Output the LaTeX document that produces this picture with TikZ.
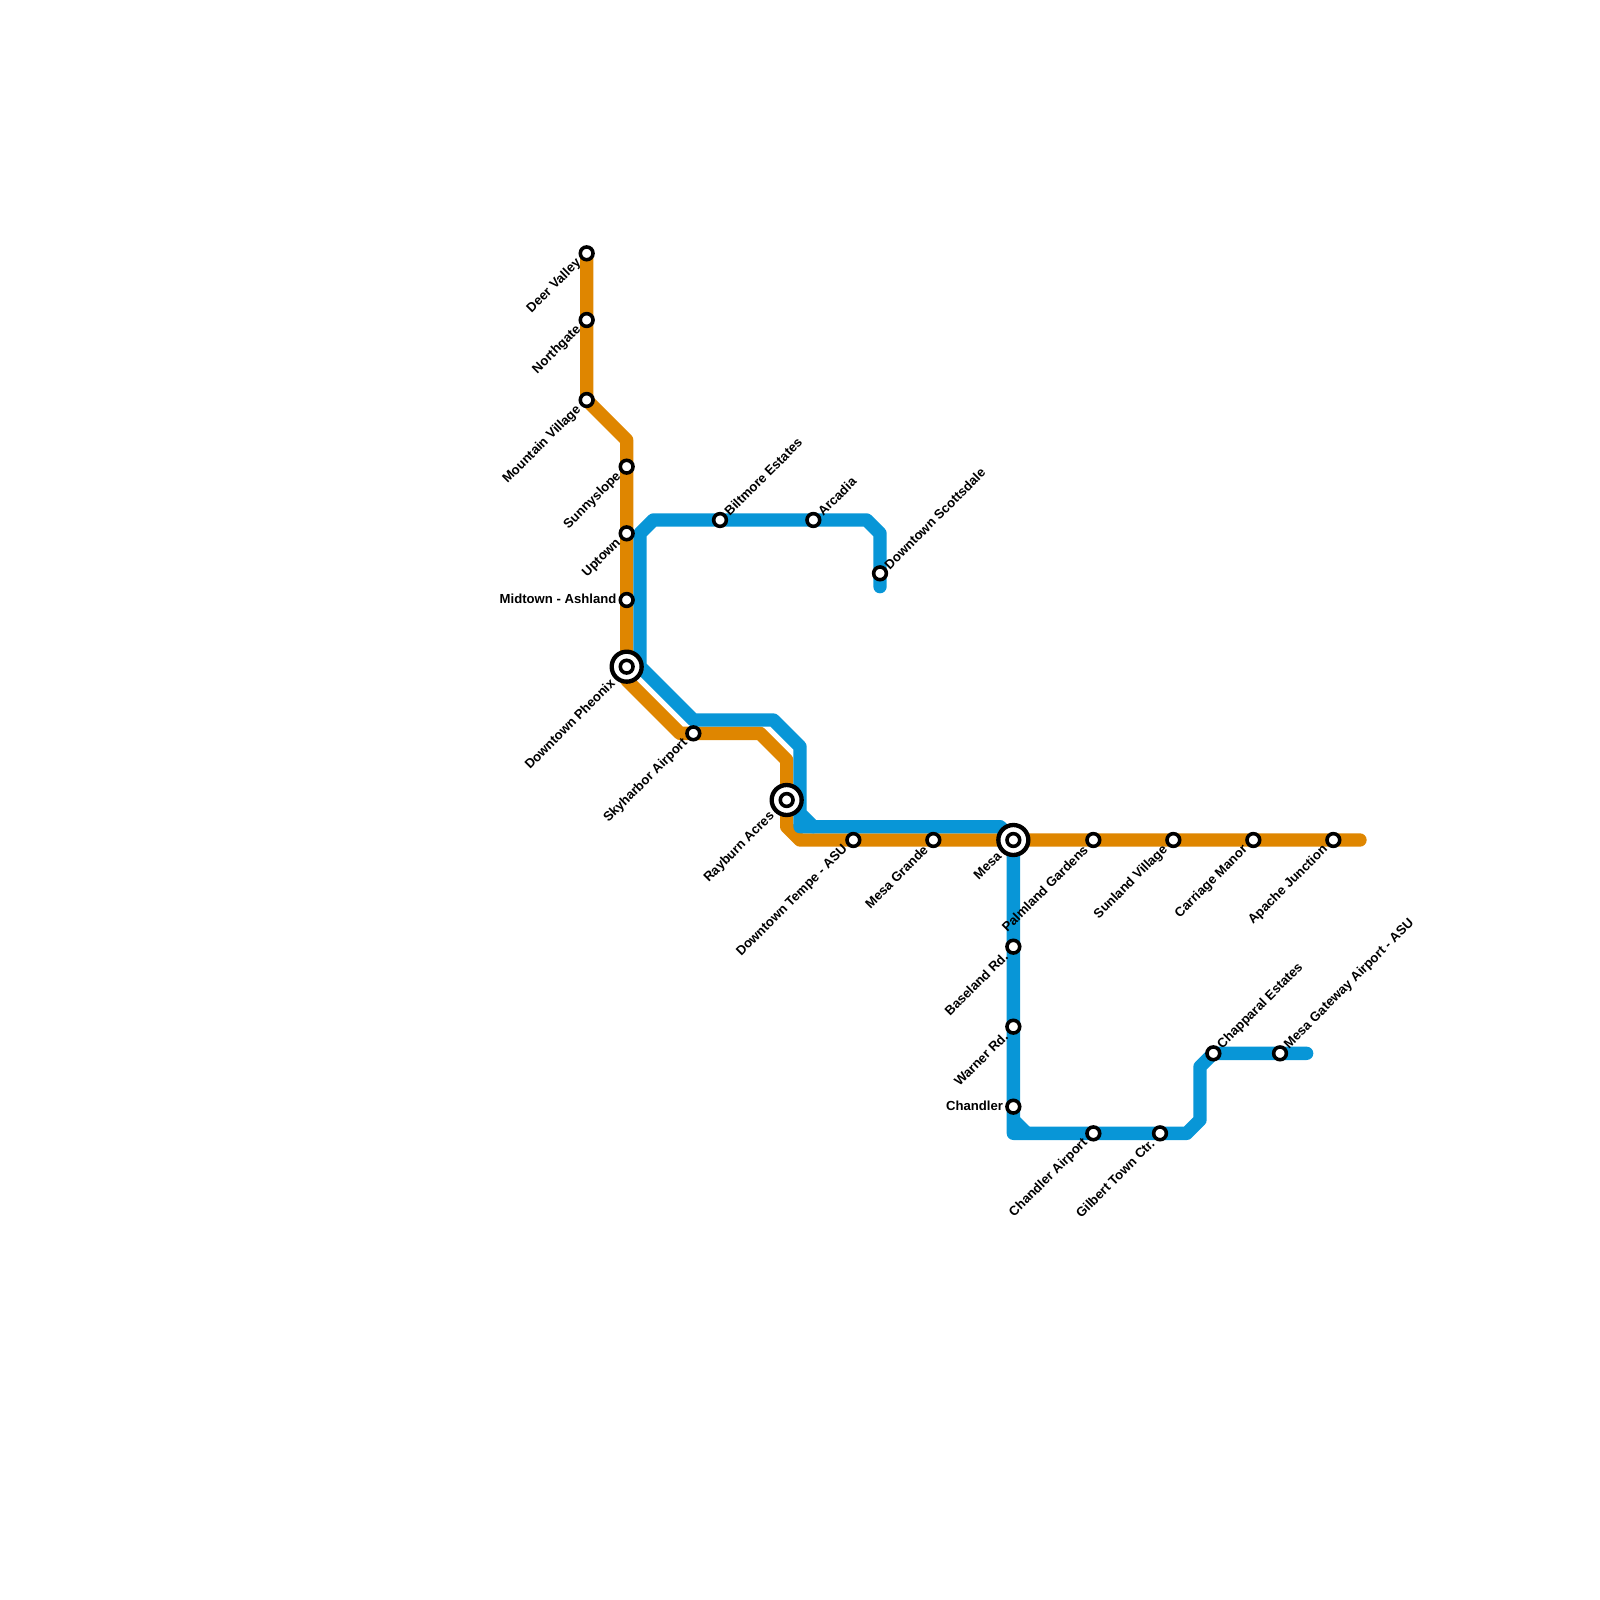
\documentclass[tikz,border=0pt]{standalone}
\usepackage{fontspec}
\setmainfont{Liberation Sans}
\usetikzlibrary{backgrounds}
\definecolor{lineorange}{HTML}{DF8600}
\definecolor{lineblue}{HTML}{0896D7}
\begin{document}
\begin{tikzpicture}[
    x=0.25cm, y=-0.25cm,
    stn/.style={circle, draw=black, fill=white, line width=1.9pt, minimum size=6.8pt, inner sep=0pt, outer sep=0pt},
    hub/.style={circle, draw=black, fill=white, line width=2.3pt, minimum size=16pt, inner sep=0pt, outer sep=0pt},
    lbl/.style={font=\fontsize{7}{8}\selectfont\bfseries, inner sep=0pt, text=black},
    lblsw/.style={lbl, rotate=45, anchor=east, xshift=-5.7pt},
    lblne/.style={lbl, rotate=45, anchor=west, xshift=4.8pt},
    lblw/.style={lbl, anchor=east, xshift=-5.3pt, yshift=0.4pt},
    lblhub/.style={lbl, rotate=45, anchor=east, xshift=-10.6pt},
    route/.style={line width=0.25cm, line join=round, line cap=round},
]
    \useasboundingbox (0,0) rectangle (120,120);

    % Orange stations
    \node[stn] (dv) at (44,19) {};
    \node[stn] (ng) at (44,24) {};
    \node[stn] (mv) at (44,30) {};
    \node[stn] (ss) at (47,35) {};
    \node[stn] (ut) at (47,40) {};
    \node[stn] (ma) at (47,45) {};
    \node[hub] (dph) at (47,50) {};
    \node[stn] (dpi) at (47,50) {};
    \node[stn] (sa) at (52,55) {};
    \node[hub] (rah) at (59,60) {};
    \node[stn] (rai) at (59,60) {};
    \node[stn] (dt) at (64,63) {};
    \node[stn] (mg) at (70,63) {};
    \node[hub] (meh) at (76,63) {};
    \node[stn] (mei) at (76,63) {};
    \node[stn] (pg) at (82,63) {};
    \node[stn] (sv) at (88,63) {};
    \node[stn] (cm) at (94,63) {};
    \node[stn] (aj) at (100,63) {};

    % Blue stations
    \node[stn] (be) at (54,39) {};
    \node[stn] (ar) at (61,39) {};
    \node[stn] (ds) at (66,43) {};
    \node[stn] (br) at (76,71) {};
    \node[stn] (wr) at (76,77) {};
    \node[stn] (ch) at (76,83) {};
    \node[stn] (ca) at (82,85) {};
    \node[stn] (gt) at (87,85) {};
    \node[stn] (ce) at (91,79) {};
    \node[stn] (mw) at (96,79) {};

    % Labels
    \node[lblsw] (dvl) at (dv) {Deer Valley};
    \node[lblsw] (ngl) at (ng) {Northgate};
    \node[lblsw] (mvl) at (mv) {Mountain Village};
    \node[lblsw] (ssl) at (ss) {Sunnyslope};
    \node[lblsw] (utl) at (ut) {Uptown};
    \node[lblw] (mal) at (ma) {Midtown - Ashland};
    \node[lblhub] (dpl) at (dph) {Downtown Pheonix};
    \node[lblsw] (sal) at (sa) {Skyharbor Airport};
    \node[lblhub] (ral) at (rah) {Rayburn Acres};
    \node[lblsw] (dtl) at (dt) {Downtown Tempe - ASU};
    \node[lblsw] (mgl) at (mg) {Mesa Grande};
    \node[lblhub] (mel) at (meh) {Mesa};
    \node[lblsw] (pgl) at (pg) {Palmland Gardens};
    \node[lblsw] (svl) at (sv) {Sunland Village};
    \node[lblsw] (cml) at (cm) {Carriage Manor};
    \node[lblsw] (ajl) at (aj) {Apache Junction};
    \node[lblne] (bel) at (be) {Biltmore Estates};
    \node[lblne] (arl) at (ar) {Arcadia};
    \node[lblne] (dsl) at (ds) {Downtown Scottsdale};
    \node[lblsw] (brl) at (br) {Baseland Rd.};
    \node[lblsw] (wrl) at (wr) {Warner Rd.};
    \node[lblw] (chl) at (ch) {Chandler};
    \node[lblsw] (cal) at (ca) {Chandler Airport};
    \node[lblsw] (gtl) at (gt) {Gilbert Town Ctr.};
    \node[lblne] (cel) at (ce) {Chapparal Estates};
    \node[lblne] (mwl) at (mw) {Mesa Gateway Airport - ASU};

    % Free ends of the two lines
    \coordinate (oend) at (102,63);
    \coordinate (bstart) at (66,44);
    \coordinate (bend) at (98,79);

    \begin{scope}[on background layer]
        % Orange line
        \draw[route, lineorange] (dv.center) -- (ng.center) -- (mv.center) -- (47,33) -- (ss.center) -- (ut.center) -- (ma.center) -- (dph.center)
            -- (47,51) -- (51,55) -- (sa.center) -- (57,55) -- (59,57) -- (rah.center) -- (59,62) -- (60,63)
            -- (dt.center) -- (mg.center) -- (meh.center) -- (pg.center) -- (sv.center) -- (cm.center) -- (aj.center) -- (oend);

        % Blue line
        \draw[route, lineblue] (bstart) -- (ds.center) -- (66,40) -- (65,39) -- (ar.center) -- (be.center) -- (49,39) -- (48,40)
            -- (48,50) -- (52,54) -- (58,54) -- (60,56) -- (60,61) -- (61,62) -- (60,62) -- (60,61);
        \draw[route, lineblue] (61,62) -- (75,62) -- (meh.center) -- (br.center) -- (wr.center) -- (ch.center) -- (76,84) -- (77,85) -- (76,85) -- (76,84);
        \draw[route, lineblue] (77,85) -- (ca.center) -- (gt.center) -- (89,85) -- (90,84) -- (90,80) -- (ce.center) -- (mw.center) -- (bend);
    \end{scope}
\end{tikzpicture}
\end{document}
